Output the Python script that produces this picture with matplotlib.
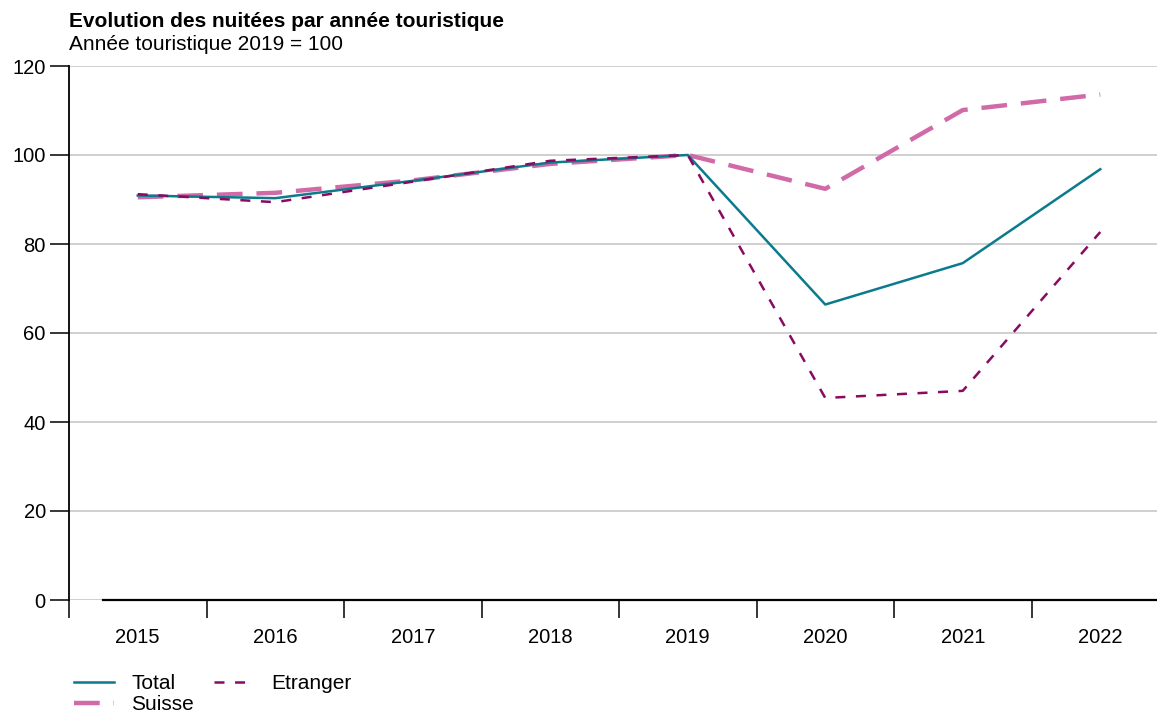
import matplotlib
matplotlib.use("Agg")
import matplotlib.pyplot as plt
import numpy as np

years = ["2015", "2016", "2017", "2018", "2019", "2020", "2021", "2022"]
total = [90.9, 90.3, 94.2, 98.3, 100.0, 66.4, 75.7, 96.8]
etranger = [91.2, 89.4, 94.0, 98.7, 100.0, 45.4, 47.0, 82.7]
suisse = [90.5, 91.5, 94.3, 98.0, 100.0, 92.4, 110.1, 113.6]
yticks = [0, 20, 40, 60, 80, 100, 120]

title = "Evolution des nuitées par année touristique"
subtitle = "Année touristique 2019 = 100"

plt.rcParams["font.family"] = ["Liberation Sans", "DejaVu Sans"]
plt.rcParams["lines.scale_dashes"] = False

W, H = 1157, 715
fig = plt.figure(figsize=(W / 100, H / 100), dpi=100)
left, right, top, bottom = 69, 1169, 66, 600
ax = fig.add_axes([left / W, 1 - bottom / H, (right - left) / W, (bottom - top) / H])

x = np.arange(len(years))
c_total = "#0b7b8c"
c_etr = "#8a0a62"
c_sui = "#d16ba8"

ax.plot(x, total, color=c_total, lw=1.8, label="Total", zorder=3)
l_sui, = ax.plot(x, suisse, color=c_sui, lw=3.2, label="Suisse", zorder=2)
l_sui.set_dashes((18.5, 10))
l_etr, = ax.plot(x, etranger, color=c_etr, lw=1.8, label="Etranger", zorder=4)
l_etr.set_dashes((7.2, 7.6))

ax.set_xlim(-0.5, len(years) - 0.5)
ax.set_ylim(0, 120)
ax.set_yticks(yticks)
ax.set_yticklabels([str(v) for v in yticks])
ax.grid(axis="y", color="#cccccc", lw=1.3, zorder=0)
ax.set_axisbelow(True)

ax.set_xticks(np.arange(len(years) + 1) - 0.5)
ax.set_xticklabels([])
ax.set_xticks(x, minor=True)
ax.set_xticklabels(years, minor=True, fontsize=14.5)
ax.tick_params(axis="x", which="major", length=13, width=1.1, color="black")
ax.tick_params(axis="x", which="minor", length=0, pad=20.5)
ax.tick_params(axis="y", length=13.7, width=1.1, pad=3, labelsize=14.5)

for s in ["top", "right"]:
    ax.spines[s].set_visible(False)
ax.spines["left"].set_linewidth(1.3)
ax.spines["bottom"].set_linewidth(1.6)
ax.spines["bottom"].set_bounds(-0.25, len(years) - 0.5)

fig.text(left / W, 1 - 21.5 / H, title, fontsize=15, fontweight="bold", va="center", ha="left")
fig.text(left / W, 1 - 45 / H, subtitle, fontsize=15, va="center", ha="left")

handles, labels = ax.get_legend_handles_labels()
order = [labels.index("Total"), labels.index("Suisse"), labels.index("Etranger")]
fig.legend([handles[i] for i in order], [labels[i] for i in order],
           loc="upper left", bbox_to_anchor=(74 / W, 1 - 674 / H), ncol=2,
           frameon=False, fontsize=15, handlelength=1.9, handletextpad=0.85,
           columnspacing=0.95, labelspacing=0.1, borderaxespad=0, borderpad=0)

fig.savefig("out.png", dpi=100)
